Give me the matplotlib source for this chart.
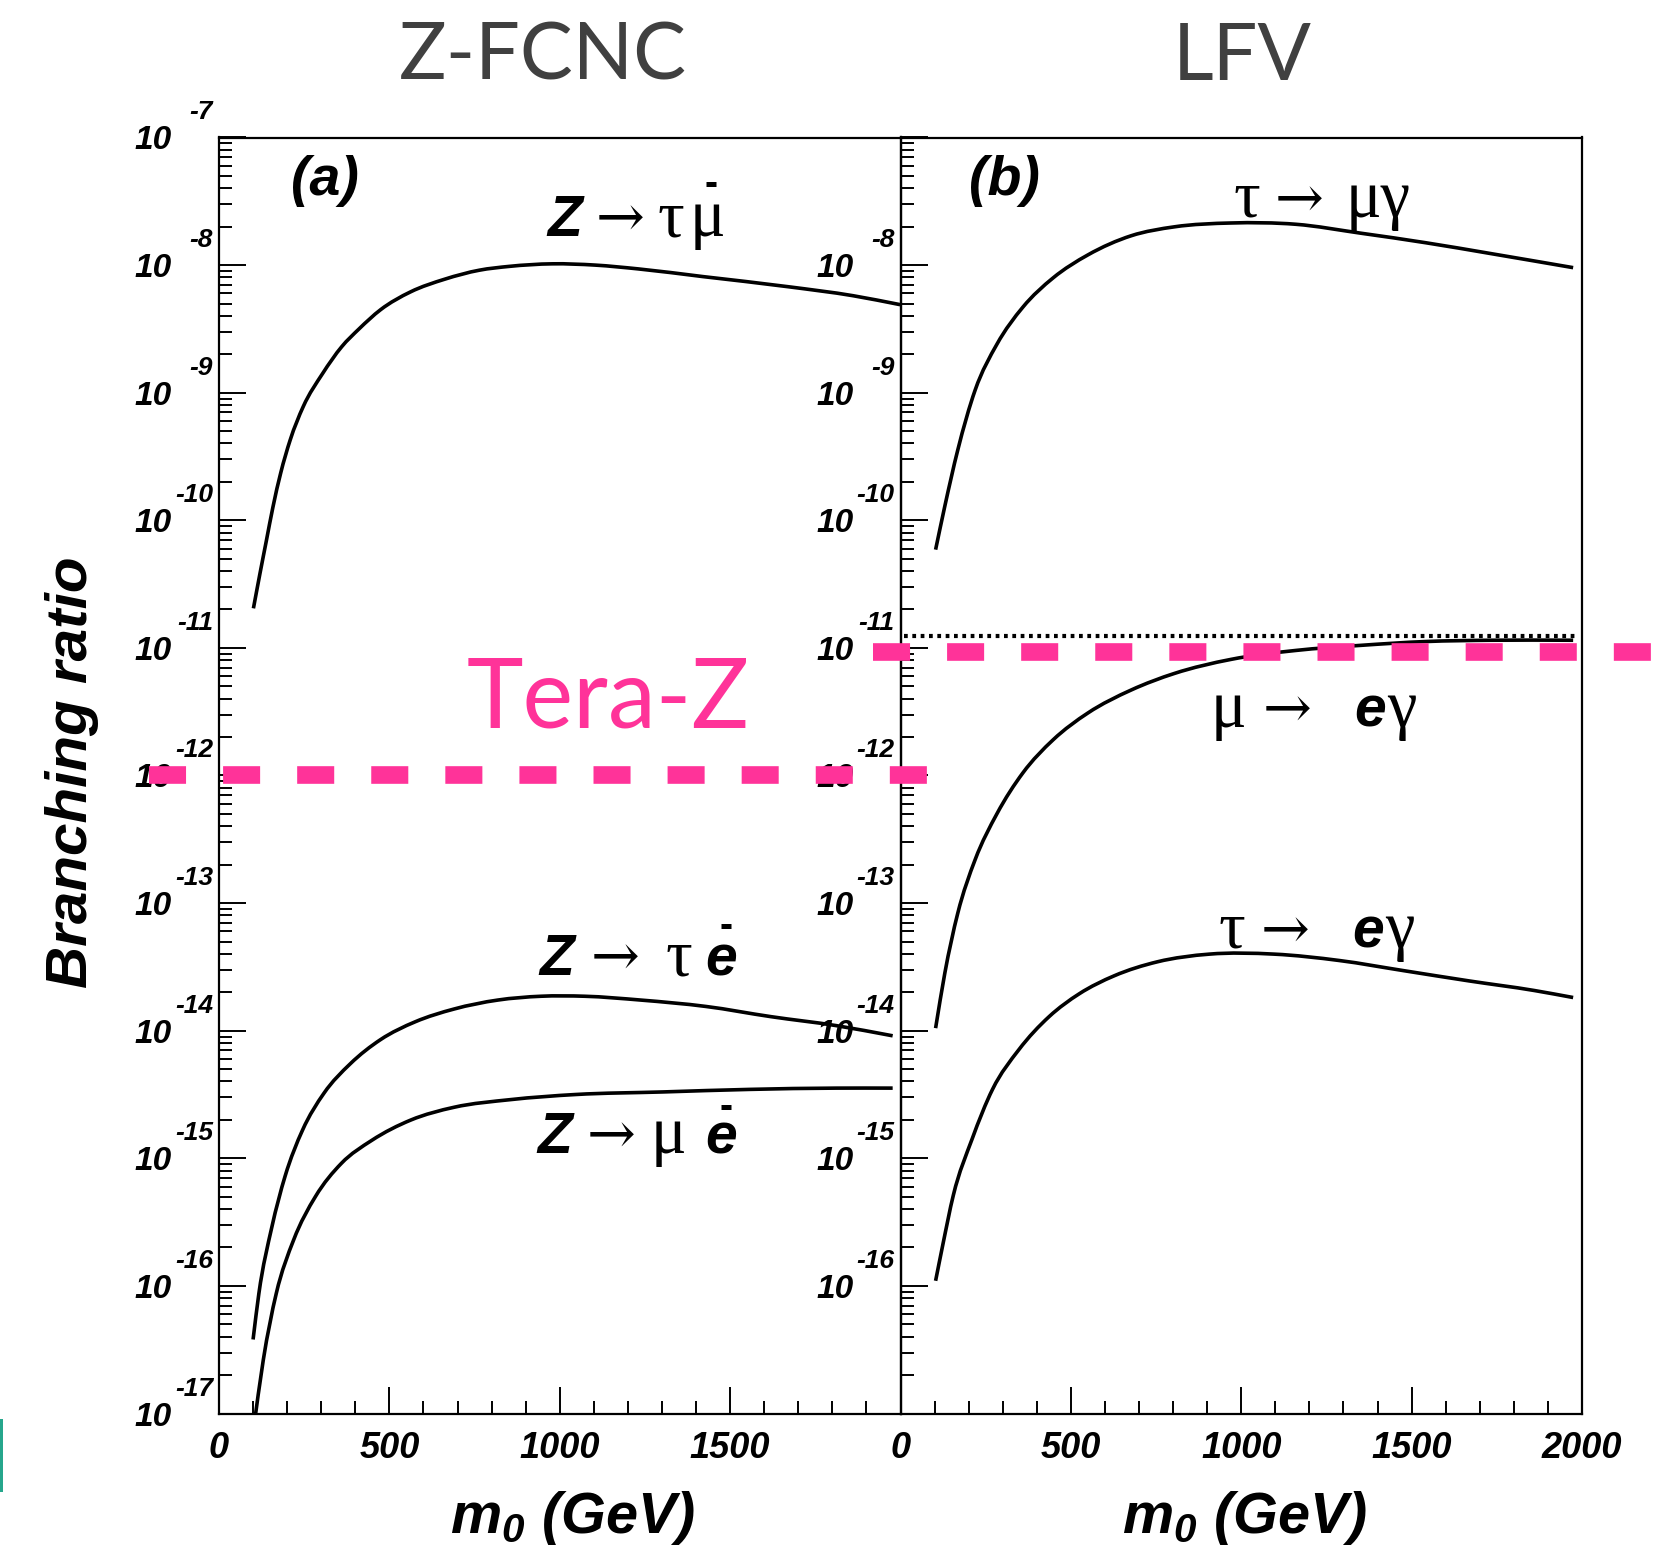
import numpy as np
import matplotlib
matplotlib.use('Agg')
import matplotlib.pyplot as plt
from matplotlib import transforms
from matplotlib.lines import Line2D
from matplotlib.patches import Rectangle, PathPatch
from matplotlib.path import Path
from matplotlib.ticker import MultipleLocator, LogLocator

plt.rcParams['mathtext.fontset'] = 'custom'
plt.rcParams['mathtext.it'] = 'Liberation Sans:italic:bold'
plt.rcParams['mathtext.rm'] = 'Liberation Sans:italic:bold'

# branching ratios vs m0 (GeV), stored as log10(BR)
z_taumu_m0 = [101, 120, 139, 158, 181, 209, 247, 304, 360, 411, 474, 562, 663, 764, 852, 978,
              1104, 1231, 1420, 1672, 1861, 1999]
z_taumu_lg = [-10.69, -10.42, -10.16, -9.90, -9.63, -9.37, -9.11, -8.85, -8.64, -8.50, -8.35,
              -8.21, -8.11, -8.04, -8.01, -7.99, -8.00, -8.03, -8.09, -8.17, -8.24, -8.31]

z_taue_m0 = [100, 117, 155, 194, 245, 308, 385, 474, 576, 690, 818, 945, 1073, 1238, 1429,
             1620, 1811, 1977]
z_taue_lg = [-16.42, -16.06, -15.54, -15.14, -14.78, -14.49, -14.26, -14.07, -13.93, -13.83,
             -13.76, -13.73, -13.73, -13.76, -13.81, -13.89, -13.96, -14.04]

z_mue_m0 = [100, 130, 168, 219, 283, 359, 448, 563, 690, 856, 1047, 1302, 1557, 1811, 1977]
z_mue_lg = [-17.15, -16.58, -16.06, -15.64, -15.30, -15.04, -14.86, -14.70, -14.60, -14.54,
            -14.50, -14.48, -14.46, -14.45, -14.45]

tau_mug_m0 = [103, 130, 168, 219, 283, 359, 448, 550, 677, 804, 970, 1160, 1351, 1542, 1733, 1974]
tau_mug_lg = [-10.23, -9.89, -9.45, -8.98, -8.62, -8.33, -8.10, -7.92, -7.77, -7.70, -7.67,
              -7.68, -7.75, -7.825, -7.91, -8.02]

mu_eg_m0 = [103, 130, 168, 219, 283, 359, 448, 550, 677, 804, 970, 1160, 1351, 1542, 1733, 1974]
mu_eg_lg = [-13.98, -13.55, -13.08, -12.66, -12.30, -11.98, -11.72, -11.51, -11.33, -11.20,
            -11.09, -11.02, -10.98, -10.95, -10.94, -10.94]

tau_eg_m0 = [103, 124, 155, 210, 270, 347, 436, 525, 627, 754, 906, 1097, 1288, 1478, 1669,
             1860, 1974]
tau_eg_lg = [-15.96, -15.68, -15.29, -14.85, -14.46, -14.15, -13.89, -13.71, -13.57, -13.46,
             -13.40, -13.40, -13.45, -13.53, -13.61, -13.685, -13.74]

meg_limit = 1.25e-11        # present mu -> e gamma bound (dotted)
teraz_zfcnc = 1e-12         # Tera-Z reach, Z-FCNC
teraz_lfv = 9.3e-12         # Tera-Z reach, LFV

left_xticks = [0, 500, 1000, 1500]
right_xticks = [0, 500, 1000, 1500, 2000]
left_decades = list(range(-7, -18, -1))
right_decades = list(range(-8, -17, -1))

PINK = '#ff3399'
GREY = '#404040'
bi = dict(family='Liberation Sans', weight='bold', style='italic')
serif = dict(family=['Liberation Serif', 'DejaVu Serif'])
arrow = dict(family='DejaVu Serif')
GR, AR, SB = 48, 42, 41     # greek, arrow, bold-italic sizes in formulas

W, H = 1669, 1550
fig = plt.figure(figsize=(W / 100, H / 100), dpi=100)
xl, xm, xr = 219, 900.5, 1582
yt, yb = 137.5, 1413.5
axl = fig.add_axes([xl / W, 1 - yb / H, (xm - xl) / W, (yb - yt) / H])
axr = fig.add_axes([xm / W, 1 - yb / H, (xr - xm) / W, (yb - yt) / H])

for ax in (axl, axr):
    ax.set_facecolor('none')
    ax.set_yscale('log')
    ax.set_xlim(0, 2000)
    ax.set_ylim(1e-17, 1e-7)
    for s in ax.spines.values():
        s.set_linewidth(1.6)
    ax.xaxis.set_major_locator(MultipleLocator(500))
    ax.xaxis.set_minor_locator(MultipleLocator(100))
    ax.yaxis.set_major_locator(LogLocator(base=10, numticks=30))
    ax.yaxis.set_minor_locator(LogLocator(base=10, subs=np.arange(2, 10), numticks=30))
    ax.tick_params(which='both', direction='in', top=False, right=False,
                   labelbottom=False, labelleft=False, width=1.4)
    ax.tick_params(which='major', length=19.5)
    ax.tick_params(which='minor', length=9.5)


def curve(ax, m0, lg):
    # smooth curve through the points: cubic bezier segments whose slopes are
    # three-point derivatives in log10(BR) vs m0
    x = np.asarray(m0, float)
    y = np.asarray(lg, float)
    n = len(x)
    h = np.diff(x)
    d = np.diff(y) / h
    m = np.empty(n)
    m[0], m[-1] = d[0], d[-1]
    m[1:-1] = (h[1:] * d[:-1] + h[:-1] * d[1:]) / (h[:-1] + h[1:])
    verts = [(x[0], y[0])]
    codes = [Path.MOVETO]
    for i in range(n - 1):
        verts += [(x[i] + h[i] / 3, y[i] + m[i] * h[i] / 3),
                  (x[i + 1] - h[i] / 3, y[i + 1] - m[i + 1] * h[i] / 3),
                  (x[i + 1], y[i + 1])]
        codes += [Path.CURVE4] * 3
    verts = np.array(verts)
    verts[:, 1] = 10.0 ** verts[:, 1]
    ax.add_patch(PathPatch(Path(verts, codes), fill=False, edgecolor='black', lw=2.6,
                           joinstyle='round', capstyle='butt'))


curve(axl, z_taumu_m0, z_taumu_lg)
curve(axl, z_taue_m0, z_taue_lg)
curve(axl, z_mue_m0, z_mue_lg)
curve(axr, tau_mug_m0, tau_mug_lg)
curve(axr, mu_eg_m0, mu_eg_lg)
curve(axr, tau_eg_m0, tau_eg_lg)
axr.axhline(meg_limit, xmin=0.005, xmax=0.99, color='black', lw=3.0,
            linestyle=(0, (0.9, 1.1)))


def decade_labels(ax, exps):
    for k in exps:
        t10 = transforms.offset_copy(ax.get_yaxis_transform(), fig=fig, x=-47, y=-12, units='dots')
        tex = transforms.offset_copy(ax.get_yaxis_transform(), fig=fig, x=-6, y=18, units='dots')
        ax.text(0, 10.0 ** k, '10', transform=t10, ha='right', va='baseline', fontsize=24, **bi)
        ax.text(0, 10.0 ** k, str(k), transform=tex, ha='right', va='baseline', fontsize=19, **bi)


def m0_labels(ax, ticks):
    tr = transforms.offset_copy(ax.get_xaxis_transform(), fig=fig, y=-45, units='dots')
    for v in ticks:
        ax.text(v, 0, str(v), transform=tr, ha='center', va='baseline', fontsize=26, **bi)


decade_labels(axl, left_decades)
decade_labels(axr, right_decades)
m0_labels(axl, left_xticks)
m0_labels(axr, right_xticks)


def formula(ax, x, y, pieces, bar=None):
    # pieces: (pixel offset, text, font, size), laid out on a common baseline
    for dx, s, font, size in pieces:
        tr = transforms.offset_copy(ax.transData, fig=fig, x=dx, y=0, units='dots')
        ax.text(x, y, s, transform=tr, ha='left', va='baseline', fontsize=size, **font)
    if bar is not None:
        tr = transforms.offset_copy(ax.transData, fig=fig, x=bar[0], y=bar[1], units='dots')
        ax.plot([x], [y], marker='_', ms=7.5, mew=3.6, color='black', transform=tr, clip_on=False)


formula(axl, 965, 1.69e-8, [(0, 'Z', bi, SB), (48, '\u2192', arrow, AR),
                            (110, '\u03c4', serif, GR), (142, '\u03bc', serif, GR)], bar=(163, 52))
formula(axl, 939, 2.73e-14, [(0, 'Z', bi, SB), (52, '\u2192', arrow, AR), (127, '\u03c4', serif, GR),
                             (166, 'e', bi, SB)], bar=(187, 49))
formula(axl, 933, 1.10e-15, [(0, 'Z', bi, SB), (50, '\u2192', arrow, AR), (114, '\u03bc', serif, GR),
                             (168, 'e', bi, SB)], bar=(189, 46))
formula(axr, 976, 2.39e-8, [(0, '\u03c4', serif, GR), (42, '\u2192', arrow, AR),
                            (113, '\u03bc\u03b3', serif, GR)])
formula(axr, 911, 2.40e-12, [(0, '\u03bc', serif, GR), (52, '\u2192', arrow, AR), (143, 'e', bi, SB),
                             (176, '\u03b3', serif, GR)])
formula(axr, 932, 4.45e-14, [(0, '\u03c4', serif, GR), (43, '\u2192', arrow, AR), (134, 'e', bi, SB),
                             (167, '\u03b3', serif, GR)])

axl.text(0.1555, 0.966, '(a)', transform=axl.transAxes, ha='center', va='center', fontsize=40, **bi)
axr.text(0.153, 0.966, '(b)', transform=axr.transAxes, ha='center', va='center', fontsize=40, **bi)

fig.text(72 / W, 1 - 772 / H, 'Branching ratio', rotation=90, ha='center', va='center',
         fontsize=42, **bi)
fig.text(573 / W, 1 - 1533 / H, r'$m_0$ (GeV)', ha='center', va='baseline', fontsize=41.5, **bi)
fig.text(1245 / W, 1 - 1533 / H, r'$m_0$ (GeV)', ha='center', va='baseline', fontsize=41.5, **bi)

fig.text(543 / W, 1 - 80 / H, 'Z-FCNC', family='Lato', fontsize=57, color=GREY,
         ha='center', va='baseline')
fig.text(1242 / W, 1 - 80 / H, 'LFV', family='Lato', fontsize=57, color=GREY,
         ha='center', va='baseline')
fig.text(608 / W, 1 - 727 / H, 'Tera-Z', family='Lato', fontsize=69, color=PINK,
         ha='center', va='baseline')

# Tera-Z reach lines, drawn over both panels
for ax, level, span in [(axl, teraz_zfcnc, (-0.103, 1.049)), (axr, teraz_lfv, (-0.040, 1.128))]:
    tr = transforms.blended_transform_factory(ax.transAxes, ax.transData)
    fig.add_artist(Line2D(list(span), [level, level], transform=tr, color=PINK, lw=12.7,
                          linestyle=(0, (2.1, 2.1)), dash_capstyle='butt', zorder=5))

fig.add_artist(Rectangle((0, 1 - 1492 / H), 3 / W, 73 / H, transform=fig.transFigure,
                         color='#26a68c', lw=0))

fig.savefig('out.png', dpi=100)
